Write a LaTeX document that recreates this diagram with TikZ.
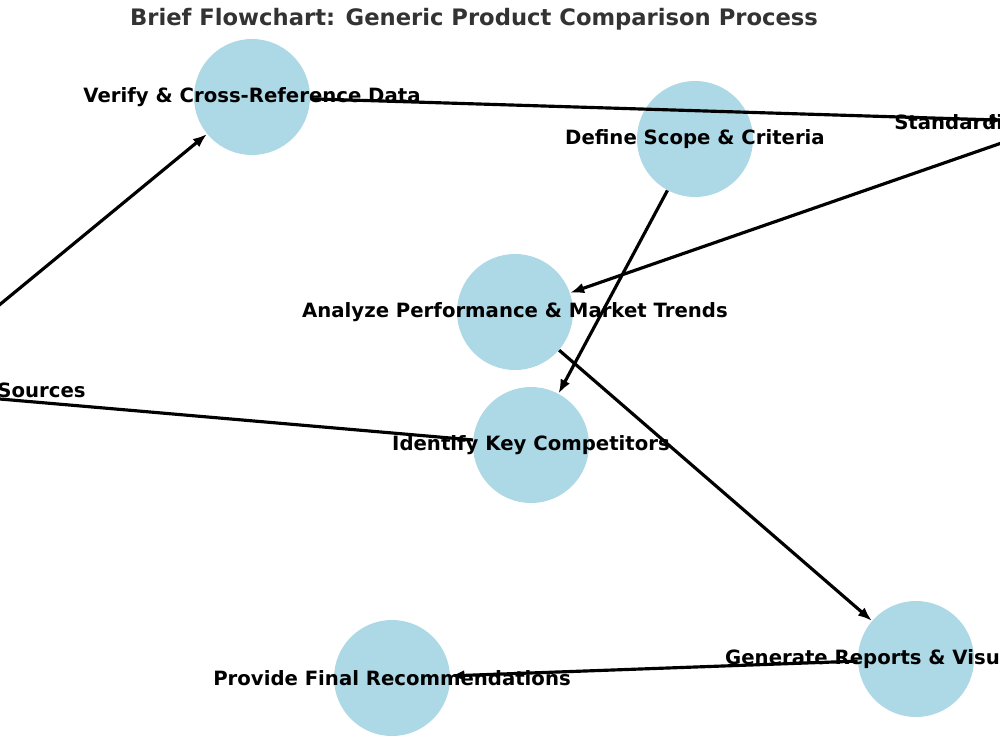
\documentclass[tikz,border=0pt]{standalone}
\usepackage{fontspec}
\setmainfont{DejaVu Sans}
\usetikzlibrary{arrows.meta}
\definecolor{nodeblue}{HTML}{ADD8E6}
\definecolor{titlegrey}{HTML}{333333}
\begin{document}
\begin{tikzpicture}[x=0.2mm,y=-0.2mm,
  stage/.style={circle, fill=nodeblue, minimum size=23.2mm, inner sep=0pt},
  tag/.style={font=\fontsize{11.2}{13}\selectfont\bfseries, text=black, inner sep=0pt},
  flow/.style={-{Latex[length=8pt,width=6pt]}, line width=1.8pt, black}
]
\useasboundingbox (0,0) rectangle (1000,750);
\clip (0,0) rectangle (1000,750);

% circles
\node[stage] (define) at (695,139) {};
\node[stage] (identify) at (531,445) {};
\node[stage] (gather) at (-104,390) {};
\node[stage] (verify) at (252,97) {};
\node[stage] (standard) at (1062,122) {};
\node[stage] (analyze) at (515,312) {};
\node[stage] (report) at (916,659) {};
\node[stage] (recommend) at (392,678) {};

% connectors
\draw[flow] (define) -- (identify);
\draw[flow] (identify) -- (gather);
\draw[flow] (gather) -- (verify);
\draw[flow] (verify) -- (standard);
\draw[flow] (standard) -- (analyze);
\draw[flow] (analyze) -- (report);
\draw[flow] (report) -- (recommend);

% labels
\node[tag] (define-t) at (define) {Define Scope \& Criteria};
\node[tag] (identify-t) at (identify) {Identify Key Competitors};
\node[tag] (gather-t) at (gather) {Collect Data from Various Sources};
\node[tag] (verify-t) at (verify) {Verify \& Cross-Reference Data};
\node[tag] (standard-t) at (standard) {Standardize \& Normalize Data};
\node[tag] (analyze-t) at (analyze) {Analyze Performance \& Market Trends};
\node[tag] (report-t) at (report) {Generate Reports \& Visualizations};
\node[tag] (recommend-t) at (recommend) {Provide Final Recommendations};

\node[font=\fontsize{12.9}{15}\selectfont\bfseries, text=titlegrey] (title) at (474,19)
  {Brief Flowchart: Generic Product Comparison Process};
\end{tikzpicture}
\end{document}
